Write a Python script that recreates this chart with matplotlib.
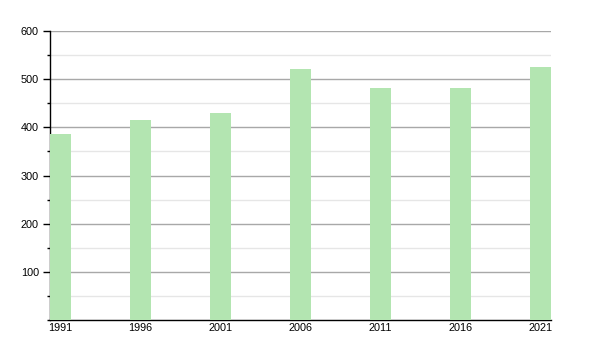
import matplotlib
matplotlib.use("Agg")
import matplotlib.pyplot as plt
from matplotlib.ticker import MultipleLocator

years = [1991, 1996, 2001, 2006, 2011, 2016, 2021]
values = [386, 415, 430, 521, 482, 482, 525]
yticks = [100, 200, 300, 400, 500, 600]

plt.rcParams['font.family'] = ['Liberation Sans', 'DejaVu Sans']

fig = plt.figure(figsize=(6, 3.5), dpi=100)
ax = fig.add_axes([50/600, 30/350, 501/600, 289/350])

bw = 1.3
ax.bar(years, values, width=bw, align='edge', color='#b3e5b1', zorder=3)

ax.set_xlim(1991, 1991 + 501/16)
ax.set_ylim(0, 600)
ax.set_xticks([y + bw/2 for y in years])
ax.set_xticklabels([str(y) for y in years])
ax.set_yticks(yticks)
ax.yaxis.set_minor_locator(MultipleLocator(50))

ax.grid(axis='y', which='major', color='#a8a8a8', linewidth=1, zorder=0)
ax.grid(axis='y', which='minor', color='#e6e6e6', linewidth=1, zorder=0)

for s in ['top', 'right']:
    ax.spines[s].set_visible(False)
ax.spines['left'].set_color('black')
ax.spines['bottom'].set_color('black')
ax.spines['left'].set_linewidth(1)
ax.spines['bottom'].set_linewidth(1)

ax.tick_params(axis='x', length=0, pad=2, labelsize=7.8, colors='black')
ax.tick_params(axis='y', which='major', length=5, width=1, pad=3, labelsize=7.8)
ax.tick_params(axis='y', which='minor', length=2.5, width=1)

fig.savefig('out.png', dpi=100)
